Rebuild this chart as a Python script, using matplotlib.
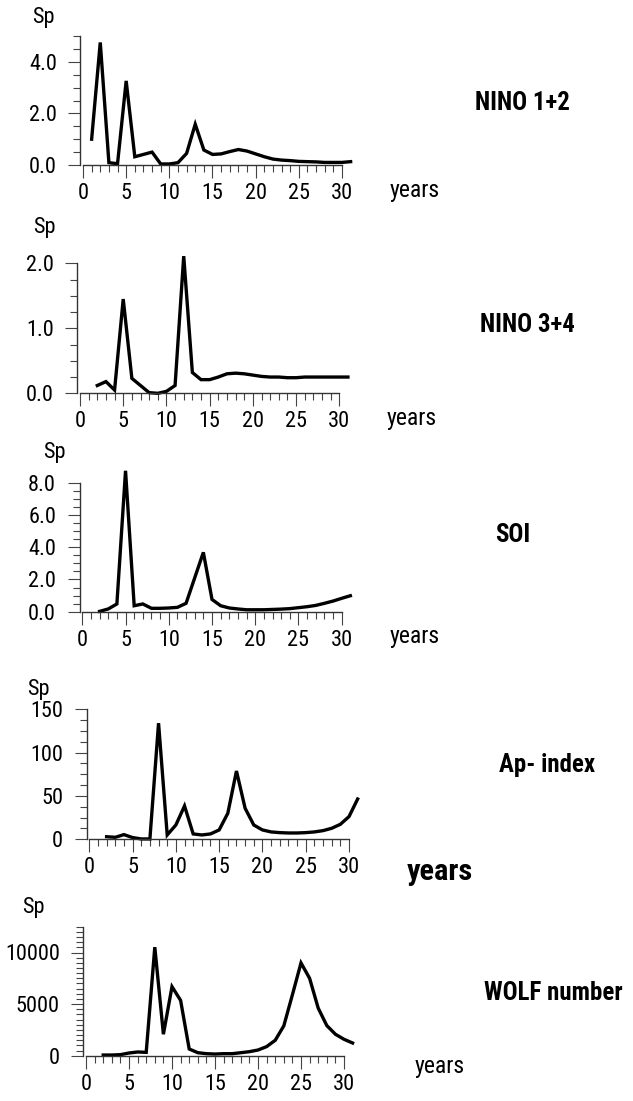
import matplotlib
matplotlib.use('Agg')
import matplotlib.pyplot as plt
import numpy as np
from matplotlib import font_manager as fm
from matplotlib.ticker import FixedLocator
from matplotlib.font_manager import FontProperties

# ---------------- data ----------------
nino12_x = list(range(1, 32))
nino12_y = [1.0, 4.75, 0.09, 0.05, 3.26, 0.32, 0.41, 0.50, 0.04, 0.04,
            0.09, 0.45, 1.58, 0.58, 0.41, 0.43, 0.52, 0.60, 0.54, 0.43,
            0.32, 0.23, 0.19, 0.17, 0.14, 0.13, 0.12, 0.10, 0.10, 0.10, 0.13]

nino34_x = list(range(2, 32))
nino34_y = [0.12, 0.18, 0.05, 1.45, 0.23, 0.12, 0.01, 0.0, 0.03, 0.12,
            2.11, 0.32, 0.21, 0.21, 0.25, 0.30, 0.31, 0.30, 0.28, 0.26,
            0.25, 0.25, 0.24, 0.24, 0.25, 0.25, 0.25, 0.25, 0.25, 0.25]

soi_x = list(range(2, 32))
soi_y = [0.02, 0.17, 0.48, 8.74, 0.37, 0.48, 0.21, 0.21, 0.23, 0.27,
         0.52, 2.1, 3.68, 0.76, 0.37, 0.23, 0.17, 0.12, 0.12, 0.12,
         0.14, 0.16, 0.19, 0.25, 0.31, 0.39, 0.52, 0.66, 0.83, 0.99]

ap_x = list(range(2, 32))
ap_y = [3, 2.3, 5.4, 2, 0.4, 0.4, 134, 5, 16.5, 38.5,
        6.2, 5, 6.2, 10.8, 30, 78.8, 35.8, 16.5, 10.8, 8.5,
        7.7, 7.3, 7.3, 7.7, 8.5, 10, 12.7, 17.3, 26.2, 46.5]

wolf_x = list(range(2, 32))
wolf_y = [65, 65, 100, 260, 360, 325, 10520, 2080, 6690, 5360,
          650, 290, 195, 160, 195, 195, 290, 390, 550, 880,
          1490, 2890, 5900, 8990, 7500, 4610, 2920, 2080, 1590, 1230]

titles = ["NINO 1+2", "NINO 3+4", "SOI", "Ap- index", "WOLF number"]
xticks_major = [0, 5, 10, 15, 20, 25, 30]
ytick_sets = [
    ([0.0, 2.0, 4.0], ["0.0", "2.0", "4.0"]),
    ([0.0, 1.0, 2.0], ["0.0", "1.0", "2.0"]),
    ([0.0, 2.0, 4.0, 6.0, 8.0], ["0.0", "2.0", "4.0", "6.0", "8.0"]),
    ([0, 50, 100, 150], ["0", "50", "100", "150"]),
    ([0, 5000, 10000], ["0", "5000", "10000"]),
]
yminor_steps = [0.5, 0.25, 0.5, 12.5, 500]
ytops = [5.0, 2.0, 8.0, 150, 12500]

# ---------------- fonts ----------------
entries = fm.fontManager.ttflist


def pick(cands):
    for name, wmin, wmax, stretch in cands:
        for e in entries:
            if e.name != name or e.style != 'normal':
                continue
            w = e.weight if isinstance(e.weight, (int, float)) else 400
            if not (wmin <= w <= wmax):
                continue
            st = str(e.stretch)
            if stretch is not None and stretch not in st:
                continue
            return e.fname
    return None


reg_path = pick([('Liberation Sans Narrow', 400, 400, None),
                 ('Roboto Condensed', 400, 400, None),
                 ('DejaVu Sans', 400, 400, 'condensed'),
                 ('Liberation Sans', 400, 400, None)])
bold_path = pick([('Roboto Condensed', 900, 900, None),
                  ('Roboto Condensed', 800, 800, None),
                  ('Roboto Condensed', 700, 700, None),
                  ('Liberation Sans Narrow', 700, 700, None),
                  ('DejaVu Sans', 700, 700, 'condensed'),
                  ('Roboto', 900, 900, None),
                  ('Lato', 900, 900, None),
                  ('Liberation Sans', 700, 700, None)])


def fp(path, size, bold=False):
    if path:
        return FontProperties(fname=path, size=size)
    return FontProperties(family='DejaVu Sans', size=size,
                          weight='bold' if bold else 'normal')


W, H = 633, 1101
fig = plt.figure(figsize=(W / 100, H / 100), dpi=100)
renderer = fig.canvas.get_renderer()

# layout in pixels: (x at 0, x at 30, y at 0, y at top)
geo = [
    (83, 342, 165, 36),
    (80, 339.3, 393.3, 263.3),
    (82.3, 341.7, 611.7, 482.7),
    (89.3, 349, 839.3, 709.3),
    (86, 344, 1055.7, 926.7),
]
sp_pos = [(32, 18), (33, 227), (43, 452), (27, 690), (22, 907)]
years_pos = [(390, 190), (387, 418), (390, 636), (407, 872), (415, 1066)]
title_pos = [(522, 103), (527, 325), (513, 535), (547, 765), (553, 993)]

series = [(nino12_x, nino12_y), (nino34_x, nino34_y), (soi_x, soi_y),
          (ap_x, ap_y), (wolf_x, wolf_y)]

# title size fitted so that "NINO 1+2" spans ~95 px
probe = fig.text(0, 0, titles[0], fontproperties=fp(bold_path, 16, True))
TITLE_SIZE = min(22, 16 * 95 / probe.get_window_extent(renderer).width)
probe.remove()
# bold "years" of the Ap panel spans ~66 px
probe = fig.text(0, 0, "years", fontproperties=fp(bold_path, 16, True))
BYEARS_SIZE = min(24, 16 * 66 / probe.get_window_extent(renderer).width)
probe.remove()

TICK_SIZE = 16
SP_SIZE = 16
YEARS_SIZE = 17
XL, XR = -0.3, 31.6
for i, ((xs, ys), (x0, x30, y0, yt)) in enumerate(zip(series, geo)):
    s = (x30 - x0) / 30.0
    lpx = x0 + XL * s
    rpx = x0 + XR * s
    ax = fig.add_axes([lpx / W, (H - y0) / H, (rpx - lpx) / W, (y0 - yt) / H])
    ax.set_xlim(XL, XR)
    ax.set_ylim(0, ytops[i])
    ax.plot(xs, ys, color='black', lw=2.4, clip_on=False, solid_joinstyle='miter')
    for sp in ['top', 'right']:
        ax.spines[sp].set_visible(False)
    ax.spines['bottom'].set_bounds(0, 30)
    ax.spines['left'].set_bounds(0, ytops[i])
    for sp in ['bottom', 'left']:
        ax.spines[sp].set_color('#333333')
        ax.spines[sp].set_linewidth(1.0)
    ax.xaxis.set_major_locator(FixedLocator(xticks_major))
    ax.xaxis.set_minor_locator(FixedLocator(list(range(0, 31))))
    ax.set_xticklabels([str(v) for v in xticks_major])
    yt_vals, yt_labs = ytick_sets[i]
    ax.yaxis.set_major_locator(FixedLocator(yt_vals))
    ax.set_yticklabels(yt_labs)
    ax.yaxis.set_minor_locator(FixedLocator(list(np.arange(0, ytops[i] + 1e-9, yminor_steps[i]))))
    ax.tick_params(which='major', direction='out', length=9, width=0.8,
                   color='#444444', pad=4)
    ax.tick_params(which='minor', direction='out', length=5, width=0.8,
                   color='#444444')
    ax.tick_params(axis='y', which='major', pad=8)
    for lab in ax.get_xticklabels() + ax.get_yticklabels():
        lab.set_fontproperties(fp(reg_path, TICK_SIZE))
    ax.patch.set_alpha(0)

    fig.text(sp_pos[i][0] / W, 1 - sp_pos[i][1] / H, "Sp", ha='left',
             va='center', fontproperties=fp(reg_path, SP_SIZE))
    if i == 3:
        fig.text(years_pos[i][0] / W, 1 - years_pos[i][1] / H, "years",
                 ha='left', va='center',
                 fontproperties=fp(bold_path, BYEARS_SIZE, True))
    else:
        fig.text(years_pos[i][0] / W, 1 - years_pos[i][1] / H, "years",
                 ha='left', va='center',
                 fontproperties=fp(reg_path, YEARS_SIZE))
    fig.text(title_pos[i][0] / W, 1 - title_pos[i][1] / H, titles[i],
             ha='center', va='center',
             fontproperties=fp(bold_path, TITLE_SIZE, True))

fig.savefig('out.png', dpi=100)
